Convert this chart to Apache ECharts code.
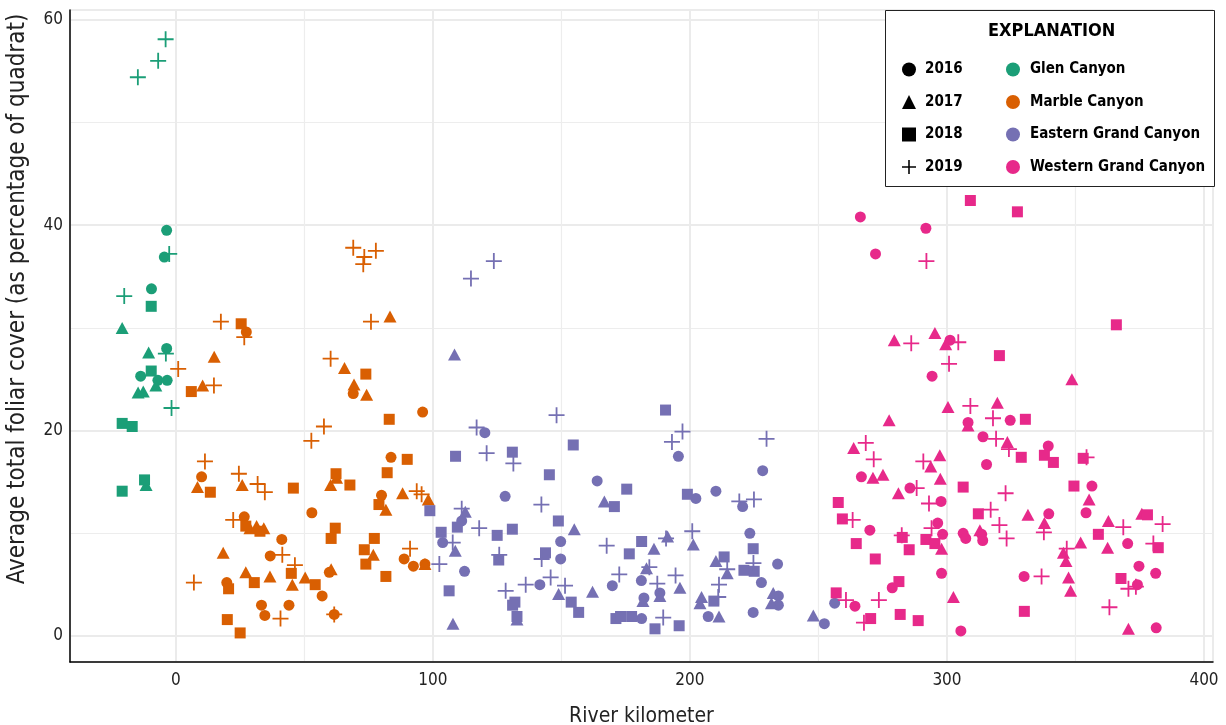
<!DOCTYPE html>
<html>
<head>
<meta charset="utf-8">
<script src="https://cdn.jsdelivr.net/npm/echarts@6/dist/echarts.min.js"></script>
<style>
  html, body { margin: 0; padding: 0; background: #fff; }
  #chart { width: 1226px; height: 725px; }
</style>
</head>
<body>
<div id="chart"></div>
<script>
// Average total foliar cover by river kilometer, Colorado River reaches, 2016-2019
const regions = ['Glen Canyon', 'Marble Canyon', 'Eastern Grand Canyon', 'Western Grand Canyon'];
const regionColors = ['#1b9e77', '#d95f02', '#7570b3', '#e7298a'];
const years = ['2016', '2017', '2018', '2019'];
const xTickValues = [0, 100, 200, 300, 400];
const yTickValues = [0, 20, 40, 60];

// [river kilometer, cover %]
const glen2016 = [[-3.6,39.5],[-4.5,36.9],[-9.5,33.8],[-3.6,28.0],[-13.7,25.3],[-7.0,24.9],[-3.4,24.9]];
const glen2017 = [[-20.9,30.0],[-10.6,27.6],[-7.8,24.4],[-14.7,23.7],[-12.7,23.8],[-11.6,14.7]];
const glen2018 = [[-9.6,32.1],[-9.6,25.8],[-20.9,20.7],[-17.0,20.4],[-12.2,15.2],[-20.9,14.1]];
const glen2019 = [[-4.0,58.1],[-6.9,56.0],[-14.8,54.4],[-2.6,37.2],[-20.1,33.1],[-3.9,27.5],[-1.7,22.2]];

const marble2016 = [[27.4,29.6],[69.0,23.6],[10.0,15.5],[52.9,12.0],[26.6,11.6],[41.2,9.4],[36.7,7.8],[19.8,5.2],[59.7,6.2],[56.9,3.9],[33.3,3.0],[34.6,2.0],[44.0,3.0],[61.6,2.1],[96.0,21.8],[83.7,17.4],[80.0,13.7],[88.8,7.5],[92.4,6.8],[96.9,7.0]];
const marble2017 = [[83.3,31.1],[14.9,27.2],[10.4,24.4],[65.6,26.1],[69.3,24.5],[74.2,23.5],[8.4,14.5],[25.8,14.7],[60.2,14.7],[62.5,15.4],[28.8,10.5],[31.4,10.7],[34.2,10.5],[18.4,8.1],[27.2,6.2],[36.6,5.8],[45.3,5.0],[50.3,5.7],[60.4,6.5],[81.7,12.3],[88.2,13.9],[98.2,13.3],[76.8,7.9],[96.9,7.0]];
const marble2018 = [[25.4,30.4],[6.0,23.8],[73.9,25.5],[13.4,14.0],[45.7,14.4],[62.3,15.8],[67.7,14.7],[27.2,10.7],[32.7,10.2],[62.0,10.5],[60.4,9.5],[73.3,8.4],[73.9,7.0],[77.2,9.5],[20.5,4.6],[30.5,5.2],[44.9,6.1],[54.2,5.0],[20.0,1.6],[25.0,0.3],[83.0,21.1],[90.0,17.2],[82.2,15.9],[79.0,12.8],[81.7,5.8]];
const marble2019 = [[69.0,37.8],[73.3,36.9],[72.9,36.2],[77.8,37.5],[17.5,30.6],[26.6,29.1],[75.9,30.6],[0.9,26.0],[14.8,24.4],[60.2,27.0],[57.6,20.4],[52.7,19.0],[11.3,17.0],[24.5,15.8],[31.8,14.8],[34.6,14.0],[22.3,11.3],[41.4,7.9],[46.3,6.9],[7.0,5.2],[40.7,1.7],[61.6,2.1],[93.7,14.1],[95.6,13.8],[91.1,8.5]];

const eastern2016 = [[120.2,19.8],[163.9,15.1],[128.1,13.6],[111.2,11.2],[103.8,9.1],[112.3,6.3],[149.7,9.2],[149.7,7.5],[169.8,4.9],[181.1,5.4],[141.6,5.0],[182.1,3.7],[181.2,1.7],[195.5,17.5],[228.3,16.1],[202.3,13.4],[210.1,14.1],[220.5,12.6],[223.3,10.0],[234.1,7.0],[227.8,5.2],[188.3,4.2],[207.1,1.9],[234.4,3.9],[234.4,3.0],[224.6,2.3],[252.3,1.2],[256.3,3.2]];
const eastern2017 = [[108.4,27.4],[166.7,13.1],[112.6,12.1],[155.0,10.4],[108.7,8.3],[148.9,4.1],[162.1,4.3],[132.7,1.6],[181.7,3.4],[107.8,1.2],[186.0,8.5],[183.1,6.6],[191.3,9.7],[201.3,8.9],[210.1,7.3],[214.5,6.1],[196.1,4.7],[188.3,3.9],[204.5,3.8],[203.9,3.2],[211.3,1.9],[232.4,4.2],[231.7,3.2],[248.0,2.0]];
const eastern2018 = [[154.6,18.6],[98.8,12.2],[108.8,17.5],[130.9,17.9],[145.3,15.7],[175.4,14.3],[170.6,12.6],[109.5,10.6],[103.2,10.1],[125.0,9.8],[130.9,10.4],[148.8,11.2],[125.6,7.4],[143.8,8.1],[181.2,9.2],[176.4,8.0],[106.3,4.4],[131.9,3.3],[131.0,3.0],[153.8,3.3],[156.7,2.3],[132.7,1.9],[171.2,1.7],[173.0,1.9],[177.3,1.9],[186.4,0.7],[190.5,22.0],[199.0,13.8],[224.6,8.5],[213.3,7.7],[221.0,6.4],[225.0,6.3],[209.3,3.4],[195.8,1.0]];
const eastern2019 = [[123.7,36.5],[114.8,34.8],[148.1,21.5],[117.0,20.3],[120.9,17.8],[131.3,16.8],[142.2,12.8],[111.2,12.4],[118.0,10.5],[107.7,9.1],[102.5,7.0],[125.8,7.9],[142.3,7.5],[167.6,8.8],[184.2,6.7],[172.5,6.0],[145.8,5.7],[151.4,4.9],[136.1,5.0],[128.3,4.4],[197.1,19.9],[193.0,18.9],[229.8,19.2],[219.2,13.1],[224.9,13.3],[190.7,9.5],[200.9,10.2],[214.5,6.5],[224.7,7.1],[211.3,5.0],[187.3,5.1],[194.4,5.9],[211.0,3.8],[189.6,1.8]];

const western2016 = [[266.3,40.8],[291.8,39.7],[272.2,37.2],[301.2,28.8],[294.2,25.3],[324.6,21.0],[308.2,20.8],[314.0,19.4],[339.4,18.5],[315.4,16.7],[266.7,15.5],[285.6,14.4],[356.4,14.6],[297.7,13.1],[270.0,10.3],[296.4,11.0],[298.3,9.9],[297.9,6.1],[313.5,9.9],[306.3,10.0],[307.3,9.5],[313.9,9.3],[339.6,11.9],[354.1,12.0],[370.3,9.0],[374.7,6.8],[381.2,6.1],[330.0,5.8],[374.1,5.0],[381.4,0.8],[305.4,0.5],[278.7,4.7],[264.2,2.9]];
const western2017 = [[279.5,28.8],[295.3,29.5],[299.5,28.4],[348.6,25.0],[300.4,22.3],[319.6,22.7],[277.5,21.0],[308.2,20.5],[323.5,18.9],[263.7,18.3],[297.2,17.6],[293.7,16.5],[271.2,15.4],[275.1,15.7],[297.4,15.3],[281.1,13.9],[355.3,13.3],[297.9,8.5],[312.8,10.3],[331.5,11.8],[337.9,11.0],[362.8,11.2],[375.8,11.9],[352.0,9.1],[362.5,8.6],[345.3,8.1],[346.3,7.3],[347.3,5.7],[348.1,4.4],[370.6,0.7],[302.5,3.8]];
const western2018 = [[309.1,42.4],[327.4,41.3],[365.9,30.3],[320.4,27.3],[330.5,21.1],[328.9,17.4],[337.9,17.6],[341.4,16.9],[353.0,17.3],[306.3,14.5],[349.4,14.6],[257.7,13.0],[259.3,11.4],[264.7,9.0],[272.1,7.5],[282.6,9.6],[285.3,8.4],[291.8,9.4],[295.3,9.0],[312.2,11.9],[378.0,11.8],[358.9,9.9],[382.2,8.6],[367.7,5.6],[330.1,2.4],[281.3,5.3],[256.9,4.2],[270.3,1.7],[281.8,2.1],[288.8,1.5]];
const western2019 = [[292.0,36.5],[286.1,28.5],[304.4,28.6],[300.8,26.5],[309.1,22.4],[317.9,21.2],[319.1,19.2],[324.1,18.2],[354.3,17.4],[268.4,18.8],[271.5,17.2],[290.8,17.0],[288.2,14.4],[322.8,13.9],[293.0,12.9],[263.3,11.3],[282.4,9.8],[294.0,10.5],[317.0,12.3],[320.4,10.8],[323.2,9.5],[337.7,10.1],[368.6,10.6],[383.9,10.9],[380.3,9.0],[346.6,8.5],[336.8,5.8],[370.6,4.6],[373.5,4.8],[363.2,2.8],[260.7,3.5],[273.5,3.5],[267.7,1.3]];

const seriesData = [
  [glen2016, glen2017, glen2018, glen2019],
  [marble2016, marble2017, marble2018, marble2019],
  [eastern2016, eastern2017, eastern2018, eastern2019],
  [western2016, western2017, western2018, western2019]
];

const FONT = "'DejaVu Sans Condensed', 'Liberation Sans Narrow', Roboto, sans-serif";
const PLUS = 'path://M0,7.1h16v1.8h-16z M7.1,0h1.8v16h-1.8z';
const yearSymbols = ['circle', 'triangle', 'rect', PLUS];
const yearSizes = [11, [13, 12], 11, 16];

const series = [];
regions.forEach((reg, ri) => {
  years.forEach((yr, yi) => {
    series.push({
      name: reg + ' ' + yr,
      type: 'scatter',
      data: seriesData[ri][yi],
      symbol: yearSymbols[yi],
      symbolSize: yearSizes[yi],
      itemStyle: { color: regionColors[ri], opacity: 1 },
      emphasis: { disabled: true },
      z: 3
    });
  });
});

// Empty series used only for the two legend columns
years.forEach((yr, yi) => {
  series.push({ name: yr, type: 'scatter', data: [], symbol: yearSymbols[yi], itemStyle: { color: '#000', opacity: 1 } });
});
regions.forEach((reg, ri) => {
  series.push({ name: reg, type: 'scatter', data: [], symbol: 'circle', itemStyle: { color: regionColors[ri], opacity: 1 } });
});

const chart = echarts.init(document.getElementById('chart'), null, { renderer: 'canvas' });

const legendText = { fontSize: 15, fontWeight: 'bold', color: '#000', fontFamily: FONT };

chart.setOption({
  animation: false,
  backgroundColor: '#fff',
  textStyle: { fontFamily: FONT },
  grid: {
    left: 70, right: 13, top: 10, bottom: 63,
    outerBoundsMode: 'none',
    show: true, borderColor: '#222', borderWidth: 1, containLabel: false
  },
  xAxis: {
    type: 'value',
    min: -41.2, max: 403.5, splitNumber: 5,
    name: 'River kilometer',
    nameLocation: 'middle', nameGap: 44,
    nameTextStyle: { fontSize: 21, color: '#222', fontFamily: FONT },
    axisLine: { show: true, onZero: false, lineStyle: { color: '#000', width: 1.5 } },
    axisTick: { show: false },
    axisLabel: {
      fontSize: 17, color: '#222', margin: 10, fontFamily: FONT,
      formatter: v => (xTickValues.includes(v) ? String(v) : '')
    },
    splitLine: { show: true, lineStyle: { color: '#ebebeb', width: 2 } },
    minorTick: { show: false, splitNumber: 2 },
    minorSplitLine: { show: true, lineStyle: { color: '#ededed', width: 1.2 } }
  },
  yAxis: {
    type: 'value',
    min: -2.53, max: 60.95, splitNumber: 3,
    name: 'Average total foliar cover (as percentage of quadrat)',
    nameLocation: 'middle', nameGap: 40,
    nameTextStyle: { fontSize: 24, color: '#222', fontFamily: FONT, padding: [0, 0, 0, 74] },
    axisLine: { show: true, onZero: false, lineStyle: { color: '#000', width: 1.5 } },
    axisTick: { show: false },
    axisLabel: {
      fontSize: 17, color: '#222', margin: 7, fontFamily: FONT,
      formatter: v => (yTickValues.includes(v) ? String(v) : '')
    },
    splitLine: { show: true, lineStyle: { color: '#ebebeb', width: 2 } },
    minorTick: { show: false, splitNumber: 2 },
    minorSplitLine: { show: true, lineStyle: { color: '#ededed', width: 1.2 } }
  },
  legend: [
    {
      data: years.map((yr, yi) => ({ name: yr, icon: yearSymbols[yi] })),
      orient: 'vertical', left: 897, top: 57, z: 8,
      itemWidth: 14, itemHeight: 14, itemGap: 17.5,
      selectedMode: false,
      textStyle: Object.assign({ padding: [0, 0, 0, 4] }, legendText)
    },
    {
      data: regions.map(r => ({ name: r, icon: 'circle' })),
      orient: 'vertical', left: 1001, top: 57, z: 8,
      itemWidth: 14, itemHeight: 14, itemGap: 17.5,
      selectedMode: false,
      textStyle: Object.assign({ padding: [0, 0, 0, 5] }, legendText)
    }
  ],
  graphic: [
    {
      type: 'rect', left: 885, top: 10, z: 5,
      shape: { width: 329, height: 176 },
      style: { fill: '#fff', stroke: '#222', lineWidth: 1 }
    },
    {
      type: 'text', left: 988, top: 22, z: 9,
      style: { text: 'EXPLANATION', font: 'bold 18px ' + FONT, fill: '#000' }
    }
  ],
  series: series
});
</script>
</body>
</html>
